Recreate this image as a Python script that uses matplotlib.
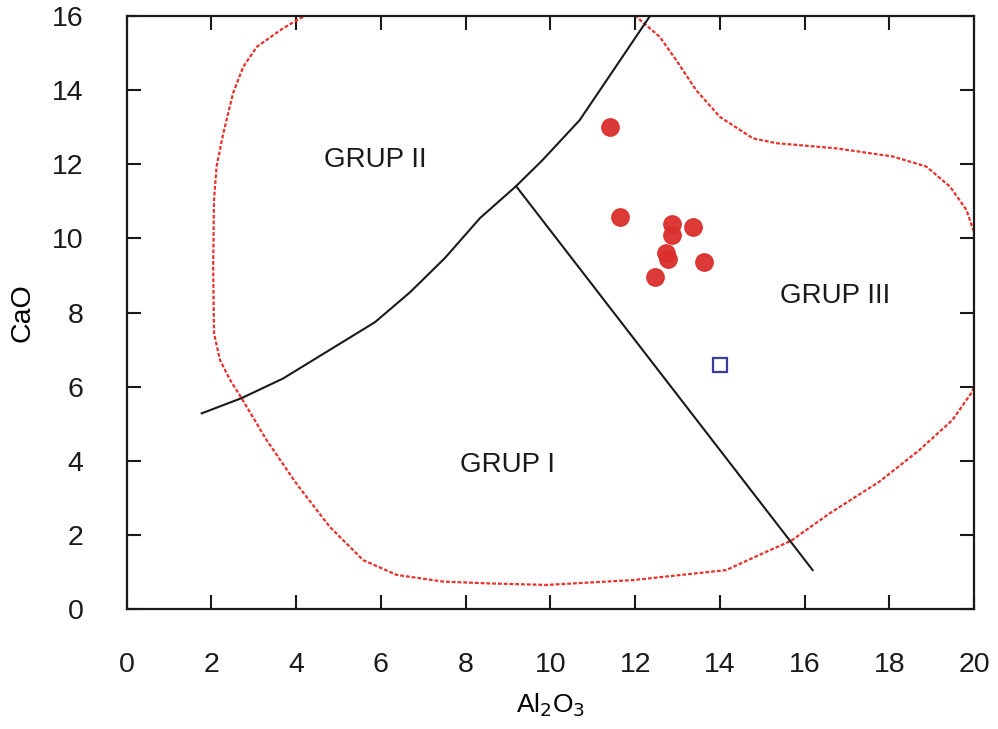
import matplotlib
matplotlib.use('Agg')
from matplotlib import pyplot as plt

plt.rcParams['font.family'] = ['Liberation Sans', 'DejaVu Sans']

# sample points (Al2O3, CaO)
al2o3 = [11.40, 11.65, 12.88, 13.36, 12.86, 12.72, 12.77, 13.62, 12.48]
cao = [13.01, 10.59, 10.38, 10.32, 10.09, 9.60, 9.44, 9.35, 8.97]

# open square sample
sq_al2o3 = [14.0]
sq_cao = [6.58]

# group boundary curve (GRUP I / GRUP II)
curve_x = [1.77, 2.71, 3.69, 4.79, 5.86, 6.69, 7.51, 8.34, 9.19, 9.82, 10.69, 11.40, 12.35]
curve_y = [5.28, 5.69, 6.22, 6.99, 7.74, 8.55, 9.47, 10.55, 11.41, 12.12, 13.19, 14.39, 16.0]

# straight boundary (GRUP I / GRUP III)
line_x = [9.19, 16.19]
line_y = [11.41, 1.05]

# dotted red envelope
env_x = [4.16, 3.69, 3.07, 2.75, 2.51, 2.28, 2.12, 2.06, 2.04, 2.06, 2.20, 2.44, 2.71,
         3.30, 4.00, 4.79, 5.58, 6.37, 7.47, 8.57, 9.91, 11.95, 14.15, 15.01, 15.68,
         16.59, 17.77, 18.71, 19.49, 19.93, 20.4,
         20.4, 19.98, 19.82, 19.43, 18.87, 18.08, 16.75, 15.33, 14.78, 14.00, 13.44,
         12.97, 12.58, 12.03]
env_y = [15.98, 15.67, 15.17, 14.63, 13.92, 12.84, 11.94, 11.04, 9.24, 7.44, 6.72, 6.18, 5.69,
         4.56, 3.39, 2.22, 1.32, 0.92, 0.74, 0.69, 0.65, 0.78, 1.05, 1.50, 1.84,
         2.58, 3.44, 4.29, 5.10, 5.82, 6.9,
         9.2, 10.23, 10.77, 11.40, 11.94, 12.21, 12.43, 12.57, 12.70, 13.28, 14.00,
         14.81, 15.44, 15.98]

labels = ['GRUP I', 'GRUP II', 'GRUP III']
label_x = [8.98, 5.86, 16.72]
label_y = [3.89, 12.12, 8.45]

fig = plt.figure(figsize=(9.98, 7.29), dpi=100)
ax = fig.add_axes([0.127, 0.1646, 0.849, 0.8134])

ax.plot(env_x, env_y, color='#e8312b', lw=1.6, dashes=(1.7, 0.9))
ax.plot(curve_x, curve_y, color='#1a1a1a', lw=1.5)
ax.plot(line_x, line_y, color='#1a1a1a', lw=1.5)

ax.plot(al2o3, cao, 'o', ms=12.5, color='#db2f2b', mec='#db2f2b', alpha=0.95, ls='none')
ax.plot(sq_al2o3, sq_cao, 's', ms=10.5, mfc='white', mec='#3b3b98', mew=1.6, ls='none')

for t, x, y in zip(labels, label_x, label_y):
    ax.text(x, y, t, fontsize=20, ha='center', va='center', color='#1a1a1a')

ax.set_xlim(0, 20)
ax.set_ylim(0, 16)
ax.set_xticks(range(0, 21, 2))
ax.set_yticks(range(0, 17, 2))
ax.tick_params(direction='in', length=10, width=1.5, top=True, right=True,
               labelsize=20.5, pad=31, colors='#1a1a1a')
for s in ax.spines.values():
    s.set_linewidth(1.6)
    s.set_color('#1a1a1a')

ax.set_xlabel('Al$_2$O$_3$', fontsize=19, labelpad=10)
ax.set_ylabel('CaO', fontsize=20.5, labelpad=12)

plt.savefig('out.png', dpi=100)
